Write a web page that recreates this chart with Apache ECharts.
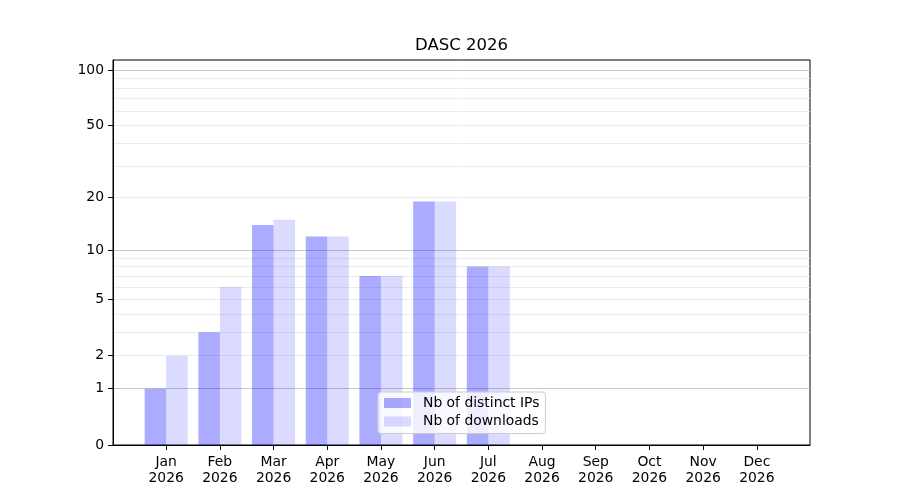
<!DOCTYPE html>
<html>
<head>
    <meta charset="utf-8">
    <title>DASC 2026</title>
    <script src="https://cdn.jsdelivr.net/npm/echarts@6/dist/echarts.min.js"></script>
    <style>
        html, body { margin: 0; padding: 0; background: #fff; }
    </style>
</head>
<body>
    <div id="main" style="width: 900px;height:500px;"></div>
    <script type="text/javascript">
      // chart data
      var months = ['Jan', 'Feb', 'Mar', 'Apr', 'May', 'Jun', 'Jul', 'Aug', 'Sep', 'Oct', 'Nov', 'Dec'];
      var year = '2026';
      var ips = [1, 3, 14, 12, 7, 19, 8, 0, 0, 0, 0, 0];
      var downloads = [2, 6, 15, 12, 7, 19, 8, 0, 0, 0, 0, 0];
      var yTicks = [0, 1, 2, 5, 10, 20, 50, 100];
      var yMajorGrid = [1, 10, 100];
      var yMinorGrid = [2, 3, 4, 5, 6, 7, 8, 9, 20, 30, 40, 50, 60, 70, 80, 90];

      // y scale is log10(v + 1)
      function t(v) { return Math.log10(v + 1); }
      function back(u) { return Math.round(Math.pow(10, u) - 1); }

      var xIdx = months.map(function (m, i) { return i; });
      var font = 'DejaVu Sans';
      var yMax = 2.058;

      function gridAxis(vals, color) {
        return {
          type: 'value', position: 'left', min: 0, max: yMax,
          axisLine: { show: false, onZero: false },
          axisLabel: { show: false },
          axisTick: { show: false, customValues: vals.map(t) },
          splitLine: { show: true, lineStyle: { color: color, width: 1 } }
        };
      }

      var myChart = echarts.init(document.getElementById('main'));
      var option = {
        animation: false,
        backgroundColor: '#fff',
        title: {
          text: 'DASC 2026',
          left: 461.5, top: 37, padding: 0,
          textAlign: 'center',
          textStyle: { fontFamily: font, fontSize: 16.5, fontWeight: 'normal', color: '#000' }
        },
        grid: {
          left: 113, right: 90, top: 60, bottom: 55,
          show: true, borderColor: '#000', borderWidth: 1, backgroundColor: 'transparent'
        },
        legend: {
          orient: 'vertical',
          left: 378, top: 392,
          padding: [4, 6, 5, 6],
          itemWidth: 27, itemHeight: 10, itemGap: 4.5,
          icon: 'rect',
          backgroundColor: 'rgba(255,255,255,0.8)',
          borderColor: '#cccccc', borderWidth: 1, borderRadius: 3,
          textStyle: { fontFamily: font, fontSize: 13.9, color: '#000', padding: [0, 0, 0, 7] },
          data: ['Nb of distinct IPs', 'Nb of downloads']
        },
        xAxis: {
          type: 'value', min: -0.99, max: 11.99,
          splitLine: { show: false },
          axisLine: { onZero: false, lineStyle: { color: '#000' } },
          axisTick: { customValues: xIdx, length: 5, lineStyle: { color: '#000' } },
          axisLabel: {
            customValues: xIdx,
            margin: 9,
            fontFamily: font, fontSize: 13.9, lineHeight: 16, color: '#000',
            formatter: function (v) { return months[Math.round(v)] + '\n' + year; }
          }
        },
        yAxis: [
          {
            type: 'value', position: 'left', min: 0, max: yMax,
            splitLine: { show: false },
            axisLine: { show: true, onZero: false, lineStyle: { color: '#000' } },
            axisTick: { show: true, customValues: yTicks.map(t), length: 5, lineStyle: { color: '#000' } },
            axisLabel: {
              customValues: yTicks.map(t),
              margin: 9,
              fontFamily: font, fontSize: 13.9, color: '#000',
              formatter: function (v) { return String(back(v)); }
            }
          },
          gridAxis(yMajorGrid, '#c8c8c8'),
          gridAxis(yMinorGrid, '#ececec')
        ],
        series: [
          {
            name: 'Nb of distinct IPs', type: 'bar',
            barWidth: 21.5, barGap: '0%',
            itemStyle: { color: 'rgba(0,0,255,0.33)' },
            data: ips.map(function (v, i) { return [i, t(v)]; })
          },
          {
            name: 'Nb of downloads', type: 'bar',
            barWidth: 21.5, barGap: '0%',
            itemStyle: { color: 'rgba(0,0,255,0.14)' },
            data: downloads.map(function (v, i) { return [i, t(v)]; })
          }
        ]
      };
      myChart.setOption(option);
    </script>
</body>
</html>
